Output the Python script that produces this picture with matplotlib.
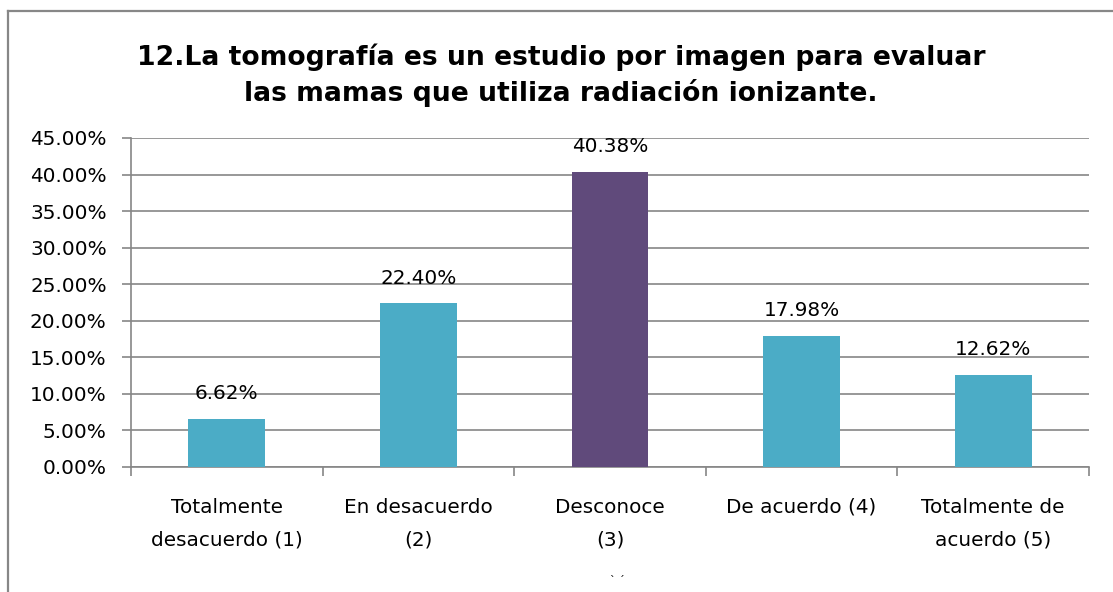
import matplotlib
matplotlib.use("Agg")
import matplotlib.pyplot as plt
from matplotlib.lines import Line2D
from matplotlib.ticker import FuncFormatter, MultipleLocator

categories = [
    "Totalmente\ndesacuerdo (1)",
    "En desacuerdo\n(2)",
    "Desconoce\n(3)",
    "De acuerdo (4)",
    "Totalmente de\nacuerdo (5)",
]
values = [6.62, 22.40, 40.38, 17.98, 12.62]
bar_colors = ["#4BACC6", "#4BACC6", "#604A7B", "#4BACC6", "#4BACC6"]
title = "12.La tomografía es un estudio por imagen para evaluar\nlas mamas que utiliza radiación ionizante."

W, H = 1113, 592
fig = plt.figure(figsize=(W / 100, H / 100), dpi=100)
fig.patch.set_facecolor("white")

# outer frame (left and top edges)
frame_c = "#878787"
fig.add_artist(Line2D([8 / W, 8 / W], [0, 1 - 11 / H], transform=fig.transFigure,
                      color=frame_c, lw=1.6))
fig.add_artist(Line2D([8 / W, 1], [1 - 11 / H, 1 - 11 / H], transform=fig.transFigure,
                      color=frame_c, lw=1.6))

ax = fig.add_axes([131 / W, 1 - 467 / H, (1089 - 131) / W, (467 - 138) / H])
x = list(range(len(categories)))
bars = ax.bar(x, values, width=0.4, color=bar_colors, zorder=3)

ax.set_xlim(-0.5, len(categories) - 0.5)
ax.set_ylim(0, 45)
ax.yaxis.set_major_locator(MultipleLocator(5))
ax.yaxis.set_major_formatter(FuncFormatter(lambda v, p: f"{v:.2f}%"))
ax.grid(axis="y", color="#868686", lw=1.2, zorder=0)

grid_c = "#868686"
for s in ["top", "right"]:
    ax.spines[s].set_visible(False)
for s in ["left", "bottom"]:
    ax.spines[s].set_color(grid_c)
    ax.spines[s].set_linewidth(1.2)

font = "DejaVu Sans"
fs = 14.4
ax.tick_params(axis="y", length=6.5, color=grid_c, width=1.2, labelsize=fs, pad=11)
for t in ax.get_yticklabels():
    t.set_fontfamily(font)

# category boundaries as ticks, labels centred on bars
ax.set_xticks([i - 0.5 for i in range(len(categories) + 1)])
ax.set_xticklabels([])
ax.tick_params(axis="x", length=6.5, color=grid_c, width=1.2)
for i, lab in enumerate(categories):
    ax.text(i, -0.093, lab, transform=ax.get_xaxis_transform(), ha="center", va="top",
            fontsize=fs, fontfamily=font, linespacing=1.95)

for b, v in zip(bars, values):
    ax.annotate(f"{v:.2f}%", (b.get_x() + b.get_width() / 2, v), xytext=(0, 11),
                textcoords="offset points", ha="center", va="bottom",
                fontsize=fs, fontfamily=font)

fig.text(561 / W, 1 - 75 / H, title, ha="center", va="center", fontsize=19.2,
         fontweight="bold", fontfamily="DejaVu Sans", linespacing=1.36)

fig.text(617 / W, 1 - 581 / H, "` ´", ha="center", va="center", fontsize=8)

fig.savefig("out.png", dpi=100, facecolor="white")
